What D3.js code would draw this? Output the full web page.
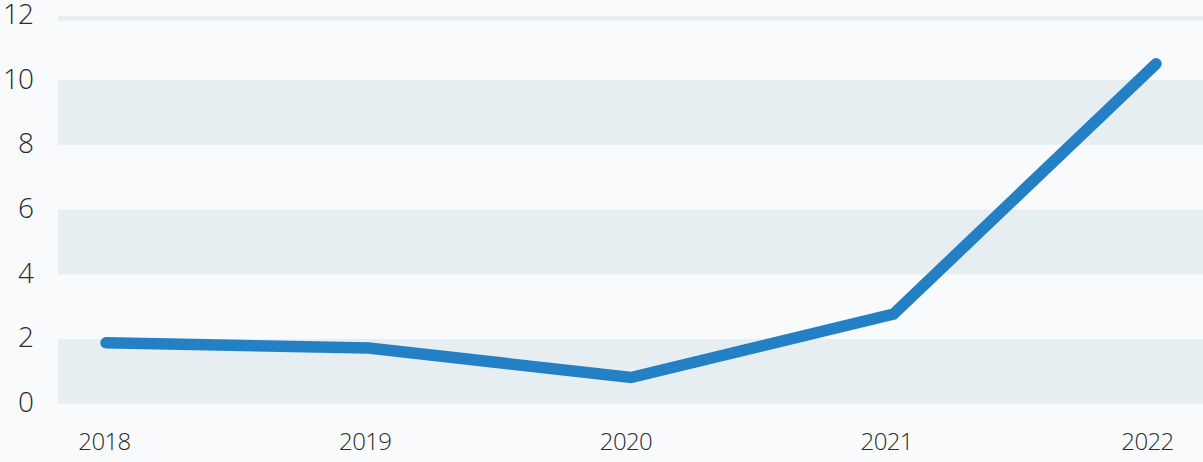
<!DOCTYPE html>
<html><head><meta charset="utf-8">
<script src="https://cdn.jsdelivr.net/npm/d3@7"></script>
<style>
html,body{margin:0;padding:0;background:#f8fafc;}
svg{display:block;}
text{font-family:"Open Sans","Noto Sans",sans-serif;font-weight:300;fill:#2b2b2b;}
</style></head>
<body><svg id="c" width="1203" height="462"></svg>
<script>
const years = ["2018","2019","2020","2021","2022"];
const values = [1.88, 1.72, 0.81, 2.77, 10.5];
const yTicks = [0,2,4,6,8,10,12];
const bands = [[0,2],[4,6],[8,10]];

const svg = d3.select("#c");
const W = 1203, H = 462;
const plotLeft = 58, plotRight = 1203;
const y = d3.scaleLinear().domain([0,12]).range([403.7,15.3]);
const x = d3.scalePoint().domain(years).range([106,1156]);
const xl = d3.scalePoint().domain(years).range([104,1147]);

svg.append("rect").attr("width",W).attr("height",H).attr("fill","#f8fafc");

svg.append("g").selectAll("rect").data(bands).join("rect")
  .attr("x",plotLeft).attr("width",plotRight-plotLeft)
  .attr("y",d=>y(d[1])).attr("height",d=>y(d[0])-y(d[1]))
  .attr("fill","#e6eef1");

svg.append("rect").attr("x",plotLeft).attr("width",plotRight-plotLeft)
  .attr("y",y(12)+0.7).attr("height",4.7).attr("fill","#e6eef1");

const yAxis = d3.axisLeft(y).tickValues(yTicks).tickSize(0).tickPadding(0).tickFormat(d3.format("d"));
const gy = svg.append("g").attr("transform","translate(33,-2)").call(yAxis);
gy.select(".domain").remove();
gy.selectAll("text").attr("font-size",28).attr("dy","0.357em")
  .style("font-family","'Open Sans'").style("font-weight",300).style("letter-spacing","-1px").attr("fill","#2b2b2b");

const xAxis = d3.axisBottom(xl).tickSize(0).tickPadding(0);
const gx = svg.append("g").attr("transform","translate(0,433)").call(xAxis);
gx.select(".domain").remove();
gx.selectAll("text").attr("font-size",24).attr("dy","0.714em")
  .style("font-family","'Open Sans'").style("font-weight",300).style("letter-spacing","-0.6px").attr("fill","#2b2b2b");

const line = d3.line().x((d,i)=>x(years[i])).y(d=>y(d));
svg.append("path").datum(values).attr("d",line)
  .attr("fill","none").attr("stroke","#2480c4").attr("stroke-width",11.5)
  .attr("stroke-linecap","round").attr("stroke-linejoin","miter");
</script></body></html>
